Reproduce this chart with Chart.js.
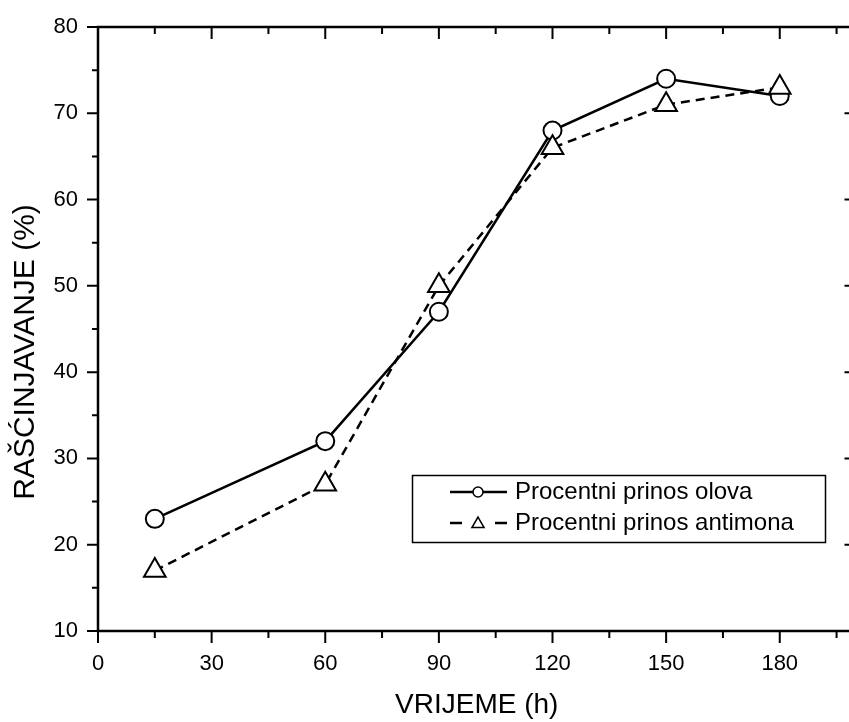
<!DOCTYPE html>
<html>
<head>
<meta charset="utf-8">
<script src="https://cdn.jsdelivr.net/npm/chart.js@4.4.1/dist/chart.umd.min.js"></script>
<style>
  html, body { margin: 0; background: #fff; overflow: hidden; }
  #wrap { width: 849px; height: 722px; overflow: hidden; }
  canvas { display: block; }
</style>
</head>
<body>
<div id="wrap"><canvas id="chart" width="870" height="722"></canvas></div>
<script>
const vrijeme = [15, 60, 90, 120, 150, 180];
const olovo = [23, 32, 47, 68, 74, 72];
const antimon = [17, 27, 50, 66, 71, 73];
const xTicks = [0, 30, 60, 90, 120, 150, 180];
const yTicks = [10, 20, 30, 40, 50, 60, 70, 80];

Chart.defaults.font.family = "'Liberation Sans', Arial, sans-serif";
Chart.defaults.color = '#000';

// okvir grafa s glavnim i pomocnim crticama (Origin stil)
const frame = {
  id: 'frame',
  afterDraw(chart) {
    const { ctx, chartArea: a, scales: { x, y } } = chart;
    ctx.save();
    ctx.strokeStyle = '#000';
    ctx.lineWidth = 2.5;
    ctx.strokeRect(a.left, a.top, a.right - a.left, a.bottom - a.top);
    ctx.lineWidth = 2;
    ctx.beginPath();
    for (let v = x.min; v <= x.max; v += 15) {
      const px = x.getPixelForValue(v);
      const len = v % 30 === 0 ? 12 : 7;
      ctx.moveTo(px, a.bottom); ctx.lineTo(px, a.bottom + len);
      ctx.moveTo(px, a.top); ctx.lineTo(px, a.top + len);
    }
    for (let v = y.min; v <= y.max; v += 5) {
      const py = y.getPixelForValue(v);
      const len = v % 10 === 0 ? 11 : 6;
      ctx.moveTo(a.left, py); ctx.lineTo(a.left - len, py);
      ctx.moveTo(a.right, py); ctx.lineTo(a.right - len, py);
    }
    ctx.stroke();

    // naslov y osi
    ctx.translate(26, 352);
    ctx.rotate(-Math.PI / 2);
    ctx.font = "30px 'Liberation Sans', Arial, sans-serif";
    ctx.fillStyle = '#000';
    ctx.textAlign = 'center';
    ctx.textBaseline = 'middle';
    ctx.fillText('RAŠĆINJAVANJE (%)', 0, 0);
    ctx.restore();
  }
};

// legenda s linijom i markerom
const legendBox = {
  id: 'legendBox',
  afterDraw(chart) {
    const ctx = chart.ctx;
    const rows = [492, 523];
    ctx.save();
    ctx.fillStyle = '#fff';
    ctx.fillRect(412, 475, 413, 67);
    ctx.strokeStyle = '#000';
    ctx.lineWidth = 1.5;
    ctx.strokeRect(412.5, 475.5, 413, 67);
    chart.data.datasets.forEach((ds, i) => {
      const y = rows[i];
      ctx.lineWidth = 2.5;
      ctx.setLineDash(ds.borderDash ? [12, 33] : []);
      ctx.beginPath();
      ctx.moveTo(450, y);
      ctx.lineTo(507, y);
      ctx.stroke();
      ctx.setLineDash([]);
      ctx.fillStyle = '#fff';
      ctx.lineWidth = 1.5;
      Chart.helpers.drawPoint(ctx, {
        pointStyle: ds.pointStyle,
        radius: ds.pointStyle === 'triangle' ? 7 : 5,
        borderWidth: 1.5,
        rotation: 0
      }, 478, ds.pointStyle === 'triangle' ? y + 1 : y);
      ctx.fillStyle = '#000';
      ctx.font = "24px 'Liberation Sans', Arial, sans-serif";
      ctx.textAlign = 'left';
      ctx.textBaseline = 'middle';
      ctx.fillText(ds.label, 515, y);
    });
    ctx.restore();
  }
};

new Chart(document.getElementById('chart'), {
  type: 'line',
  data: {
    datasets: [{
      label: 'Procentni prinos olova',
      data: vrijeme.map((x, i) => ({ x, y: olovo[i] })),
      borderColor: '#000',
      borderWidth: 2.5,
      pointStyle: 'circle',
      pointRadius: 9,
      pointBorderWidth: 2,
      pointBackgroundColor: '#fff',
      pointBorderColor: '#000',
      order: 1
    }, {
      label: 'Procentni prinos antimona',
      data: vrijeme.map((x, i) => ({ x, y: antimon[i] })),
      borderColor: '#000',
      borderWidth: 2.5,
      borderDash: [9, 6],
      pointStyle: 'triangle',
      pointRadius: 12.5,
      pointBorderWidth: 2,
      pointBackgroundColor: '#fff',
      pointBorderColor: '#000',
      order: 0
    }]
  },
  options: {
    responsive: false,
    animation: false,
    devicePixelRatio: 1,
    layout: { padding: { top: 27, right: 11, left: 0, bottom: 0 } },
    plugins: {
      legend: { display: false },
      tooltip: { enabled: false }
    },
    scales: {
      x: {
        type: 'linear',
        min: 0,
        max: 200,
        afterBuildTicks: s => { s.ticks = xTicks.map(v => ({ value: v })); },
        afterFit: s => { s.height = 91; },
        ticks: { font: { size: 22 }, padding: 3, maxRotation: 0 },
        grid: { drawOnChartArea: false, drawTicks: true, tickLength: 17, tickColor: 'rgba(0,0,0,0)' },
        border: { display: false },
        title: {
          display: true,
          text: 'VRIJEME (h)',
          font: { size: 28 },
          padding: { top: 0, bottom: 0 }
        }
      },
      y: {
        min: 10,
        max: 80,
        afterBuildTicks: s => { s.ticks = yTicks.map(v => ({ value: v })); },
        afterFit: s => { s.width = 98; },
        ticks: { font: { size: 22 }, padding: 3 },
        grid: { drawOnChartArea: false, drawTicks: true, tickLength: 17, tickColor: 'rgba(0,0,0,0)' },
        border: { display: false }
      }
    }
  },
  plugins: [frame, legendBox]
});
</script>
</body>
</html>
